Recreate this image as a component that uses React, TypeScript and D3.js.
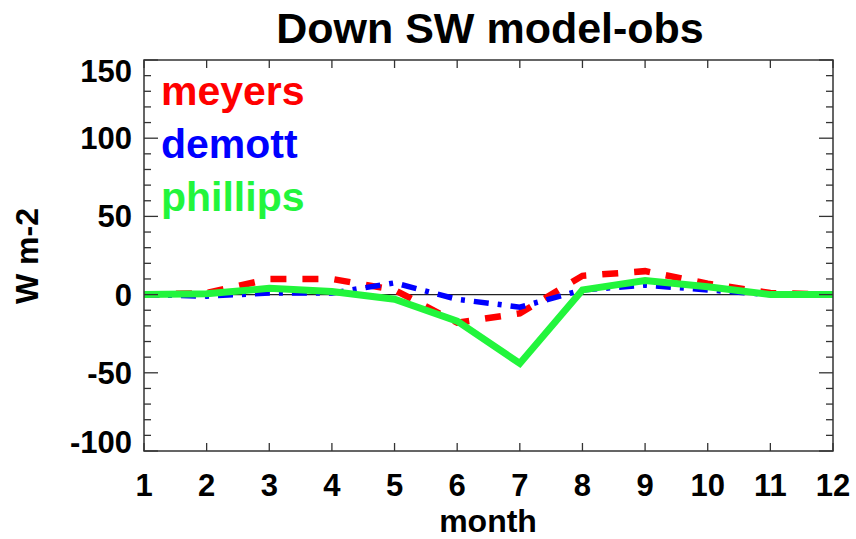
import React from "react";
import * as d3 from "d3";

// Monthly model-minus-observation differences in downward shortwave (W m-2)
const months = [1, 2, 3, 4, 5, 6, 7, 8, 9, 10, 11, 12];
const meyers = [0, 1, 10, 10, 3, -18, -12, 12, 15, 7, 1, 0];
const demott = [0, -1, 1, 1, 7.5, -3, -8, 3, 6, 3, 0, 0];
const phillips = [0, 0.5, 4, 2, -3, -17, -44, 3, 9, 5, 0, 0];
const yTicks = [-100, -50, 0, 50, 100, 150];
const seriesNames = ["meyers", "demott", "phillips"];

const W = 856;
const H = 539;
const M = { left: 144, right: 833, top: 60, bottom: 451 };
const FONT = "'Liberation Sans', Arial, Helvetica, sans-serif";

export default function App() {
  const x = d3.scaleLinear().domain([1, 12]).range([M.left, M.right]);
  const y = d3.scaleLinear().domain([-100, 150]).range([M.bottom, M.top]);
  const line = d3
    .line<number>()
    .x((_, i) => x(months[i]))
    .y((d) => y(d));

  const minorY = d3.range(-100, 151, 10);
  const series = [
    { name: seriesNames[0], values: meyers, color: "#ff0000", dash: "16 16", width: 6.5 },
    { name: seriesNames[1], values: demott, color: "#0000ff", dash: "15 9 4 9", width: 5.5 },
    { name: seriesNames[2], values: phillips, color: "#22f53c", dash: null, width: 7 },
  ];
  const frameColor = "#333";

  return (
    <svg width={W} height={H} style={{ position: "absolute", left: 0, top: 0, background: "#fff" }}>
      <text x={490} y={43} textAnchor="middle" fontFamily={FONT} fontWeight="bold" fontSize={43}>
        Down SW model-obs
      </text>

      {/* zero reference line */}
      <line x1={M.left} x2={M.right} y1={y(0)} y2={y(0)} stroke="#222" strokeWidth={1.2} />

      {series.map((s) => (
        <path
          key={s.name}
          d={line(s.values) || ""}
          fill="none"
          stroke={s.color}
          strokeWidth={s.width}
          strokeDasharray={s.dash || undefined}
          strokeLinejoin="miter"
        />
      ))}

      {/* frame */}
      <rect
        x={M.left}
        y={M.top}
        width={M.right - M.left}
        height={M.bottom - M.top}
        fill="none"
        stroke={frameColor}
        strokeWidth={1.5}
      />

      {/* y ticks on both sides */}
      {minorY.map((v) => {
        const major = v % 50 === 0;
        const len = major ? 14 : 7;
        return (
          <g key={"yt" + v} stroke={frameColor} strokeWidth={1.3}>
            <line x1={M.left} x2={M.left + len} y1={y(v)} y2={y(v)} />
            <line x1={M.right} x2={M.right - len} y1={y(v)} y2={y(v)} />
          </g>
        );
      })}

      {/* x ticks on top and bottom */}
      {months.map((m) => (
        <g key={"xt" + m} stroke={frameColor} strokeWidth={1.3}>
          <line x1={x(m)} x2={x(m)} y1={M.bottom} y2={M.bottom - 8} />
          <line x1={x(m)} x2={x(m)} y1={M.top} y2={M.top + 8} />
        </g>
      ))}

      {yTicks.map((v) => {
        let cy = y(v);
        if (v === 150) cy += 11;
        if (v === -100) cy -= 9;
        return (
          <text
            key={"yl" + v}
            x={132}
            y={cy + 11}
            textAnchor="end"
            fontFamily={FONT}
            fontWeight="bold"
            fontSize={31}
          >
            {v}
          </text>
        );
      })}

      {months.map((m) => (
        <text
          key={"xl" + m}
          x={x(m)}
          y={496}
          textAnchor="middle"
          fontFamily={FONT}
          fontWeight="bold"
          fontSize={31}
        >
          {m}
        </text>
      ))}

      <text x={488} y={532} textAnchor="middle" fontFamily={FONT} fontWeight="bold" fontSize={32}>
        month
      </text>
      <text
        transform={`translate(38,256) rotate(-90)`}
        textAnchor="middle"
        fontFamily={FONT}
        fontWeight="bold"
        fontSize={32}
      >
        W m-2
      </text>

      {series.map((s, i) => (
        <text
          key={"lg" + s.name}
          x={161}
          y={105 + i * 53}
          fontFamily={FONT}
          fontWeight="bold"
          fontSize={41}
          fill={s.color}
        >
          {s.name}
        </text>
      ))}
    </svg>
  );
}
